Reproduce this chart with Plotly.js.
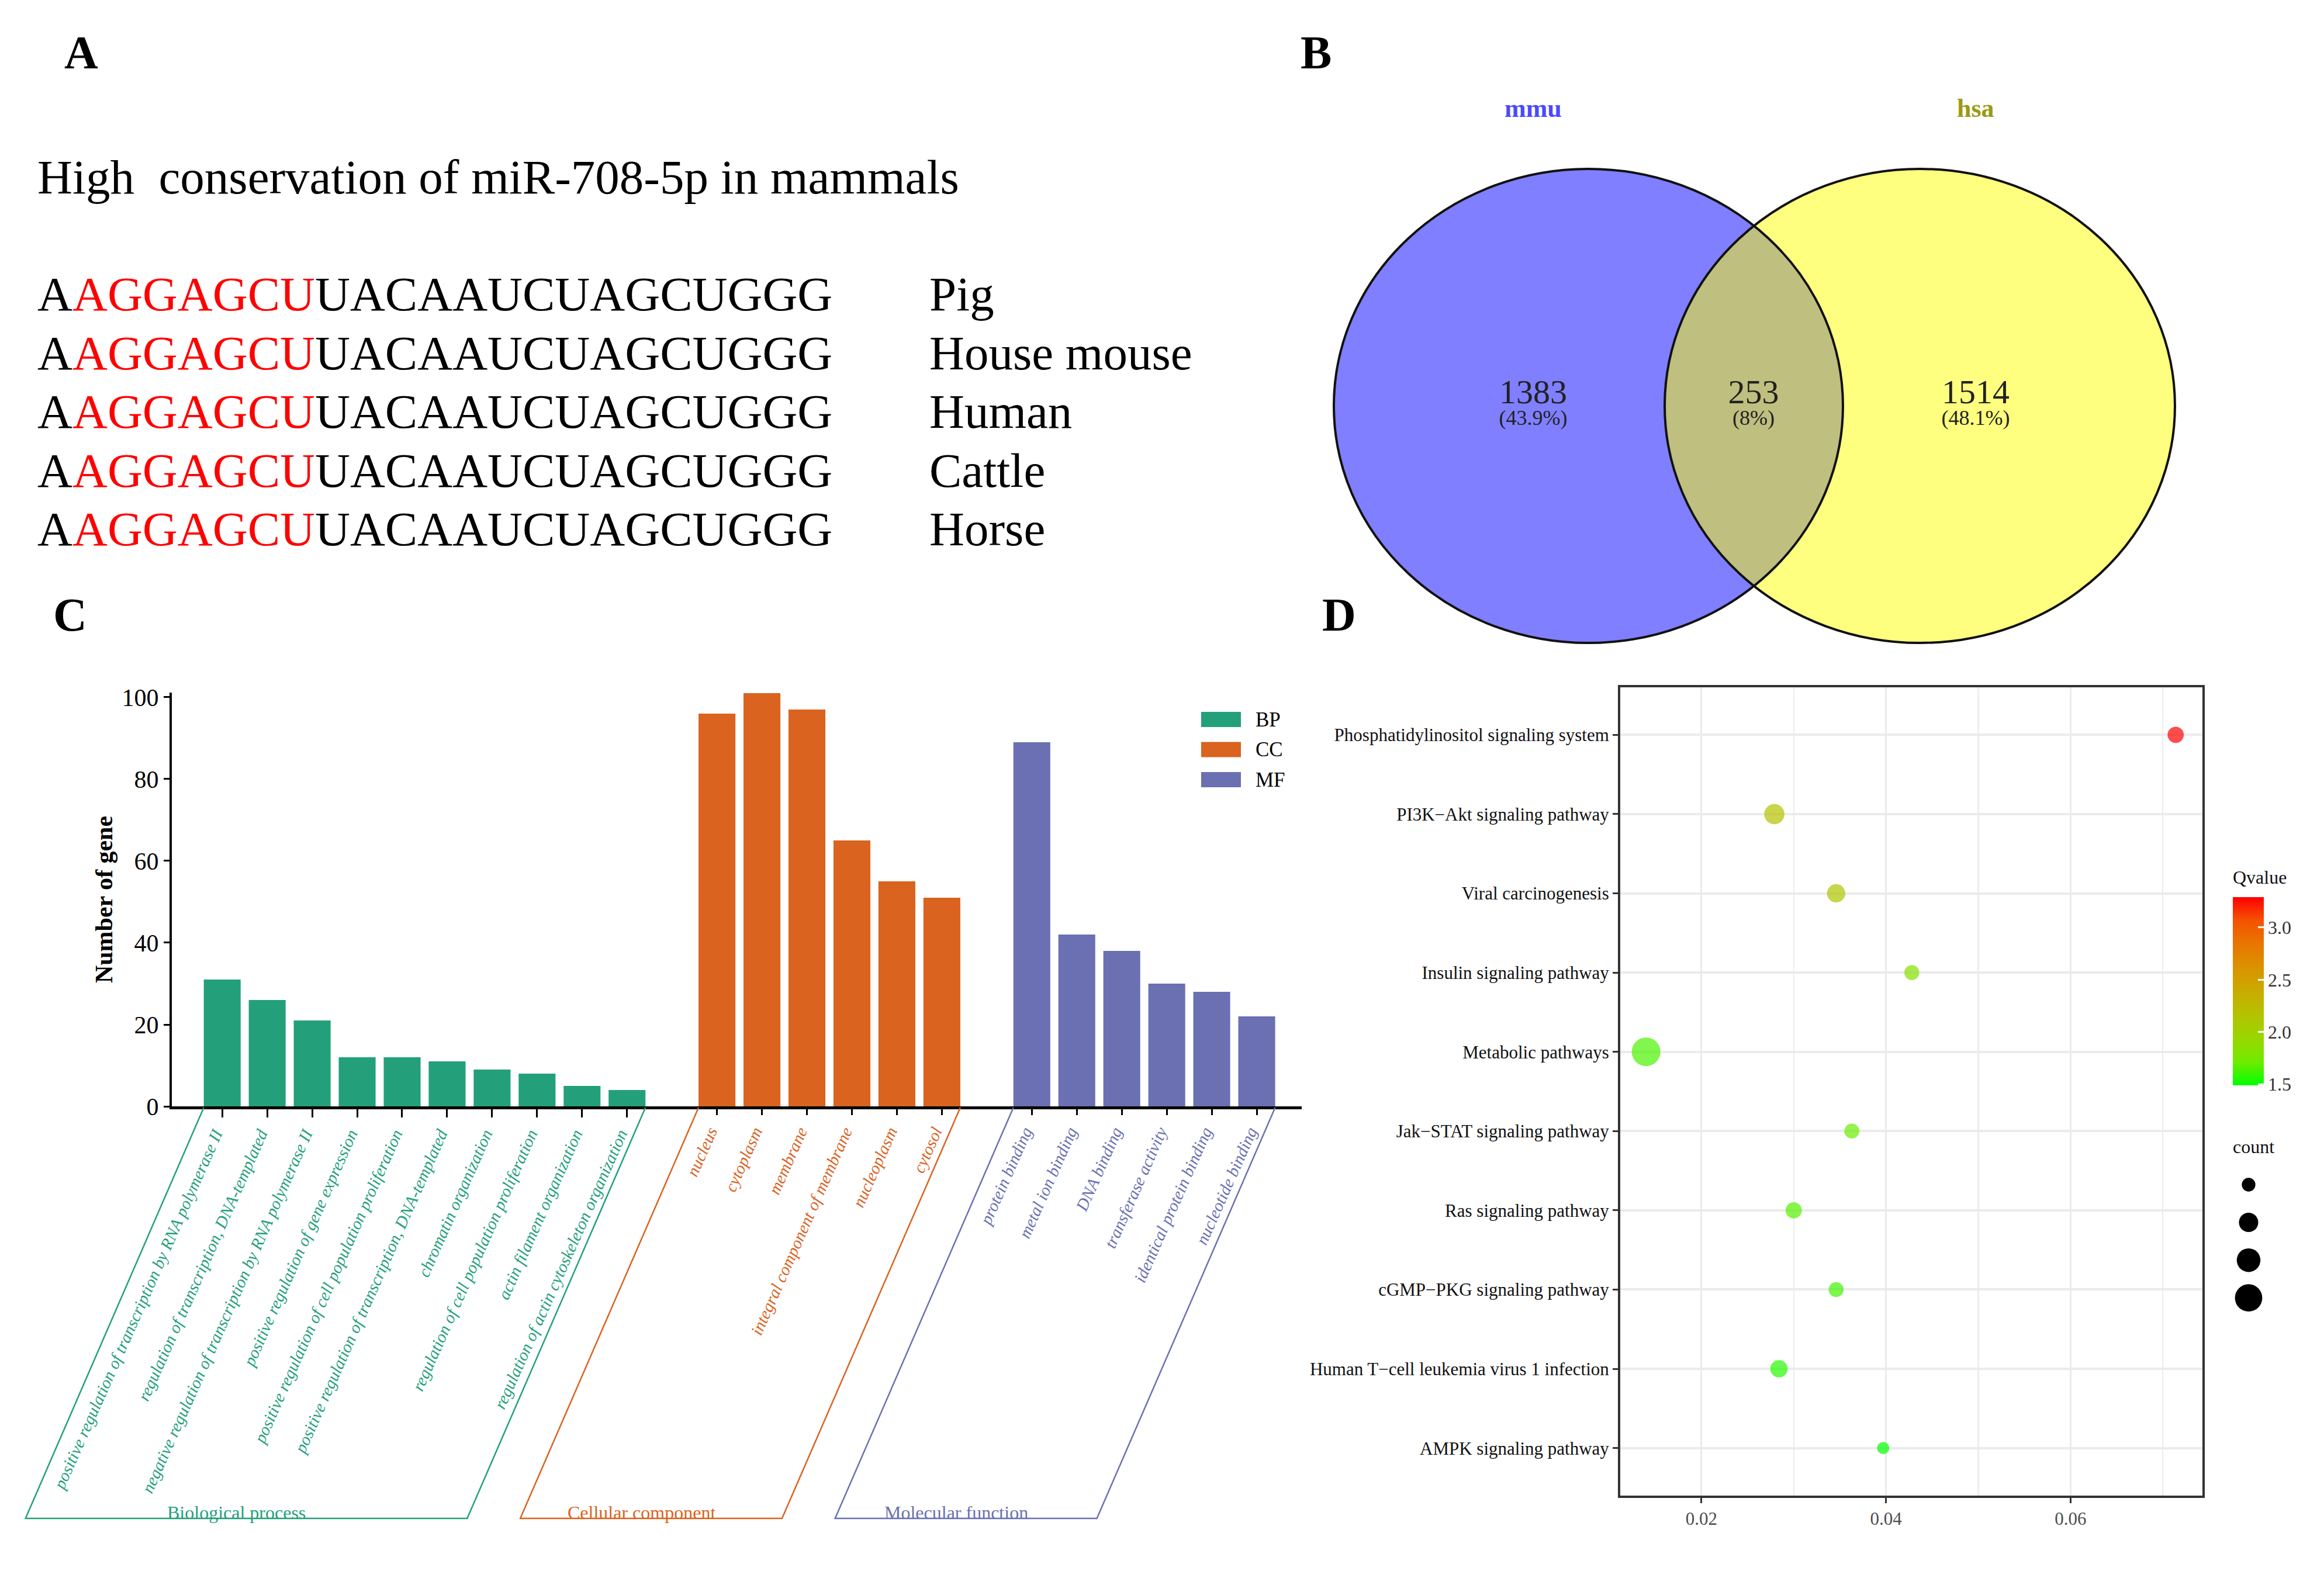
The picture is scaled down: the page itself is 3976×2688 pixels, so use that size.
<!DOCTYPE html>
<html><head><meta charset="utf-8">
<script src="https://cdn.plot.ly/plotly-3.0.1.min.js"></script>
<style>html,body{margin:0;padding:0;background:#fff;overflow:hidden}#chart{width:3976px;height:2688px}</style>
</head><body><div id="chart"></div>
<script>
// ---------------- DATA ----------------
// Panel A
const conservationTitle = 'High  conservation of miR-708-5p in mammals';
const sequences = ['AAGGAGCUUACAAUCUAGCUGGG','AAGGAGCUUACAAUCUAGCUGGG','AAGGAGCUUACAAUCUAGCUGGG','AAGGAGCUUACAAUCUAGCUGGG','AAGGAGCUUACAAUCUAGCUGGG'];
const species = ['Pig','House mouse','Human','Cattle','Horse'];
const seedStart = 1, seedEnd = 8;
// Panel B
const vennSets = ['mmu','hsa'];
const vennCounts = [1383, 253, 1514];
const vennPercents = ['(43.9%)','(8%)','(48.1%)'];
// Panel C
const goGroups = ['BP','CC','MF'];
const goGroupNames = ['Biological process','Cellular component','Molecular function'];
const bpTerms = ['positive regulation of transcription by RNA polymerase II','regulation of transcription, DNA-templated','negative regulation of transcription by RNA polymerase II','positive regulation of gene expression','positive regulation of cell population proliferation','positive regulation of transcription, DNA-templated','chromatin organization','regulation of cell population proliferation','actin filament organization','regulation of actin cytoskeleton organization'];
const bpCounts = [31, 26, 21, 12, 12, 11, 9, 8, 5, 4];
const ccTerms = ['nucleus','cytoplasm','membrane','integral component of membrane','nucleoplasm','cytosol'];
const ccCounts = [96, 101, 97, 65, 55, 51];
const mfTerms = ['protein binding','metal ion binding','DNA binding','transferase activity','identical protein binding','nucleotide binding'];
const mfCounts = [89, 42, 38, 30, 28, 22];
const yTicksC = [0, 20, 40, 60, 80, 100];
// Panel D
const pathways = ['Phosphatidylinositol signaling system','PI3K\u2212Akt signaling pathway','Viral carcinogenesis','Insulin signaling pathway','Metabolic pathways','Jak\u2212STAT signaling pathway','Ras signaling pathway','cGMP\u2212PKG signaling pathway','Human T\u2212cell leukemia virus 1 infection','AMPK signaling pathway'];
const richFactor = [0.0714, 0.0279, 0.0346, 0.0428, 0.0140, 0.0363, 0.0300, 0.0346, 0.0284, 0.0397];
const qvalue = [3.29, 2.16, 2.12, 1.84, 1.64, 1.70, 1.66, 1.62, 1.57, 1.49];
const geneCount = [7, 11, 9, 6, 22, 6, 7, 6, 8, 4];
const xTicksD = [0.02, 0.04, 0.06];
const qTicks = [1.5, 2.0, 2.5, 3.0];
const countBreaks = [5, 10, 15, 20];

// ---------------- LAYOUT HELPERS ----------------
const W = 3976, H = 2688;
const px = v => v / W, py = v => 1 - v / H;
const FONT = 'Liberation Serif';
const groupColors = ['#23A07A', '#D9631F', '#6A70B2'];
const groupTerms = [bpTerms, ccTerms, mfTerms];
const groupCounts = [bpCounts, ccCounts, mfCounts];
const groupAxes = ['x', 'x5', 'x6'];
// positions with one empty slot between groups
const groupPos = [];
let off = 0;
groupTerms.forEach((t, g) => { groupPos.push(t.map((_, i) => off + i)); off += t.length + 1; });
const lastPos = off - 2;
const cRange = [-1.12, lastPos + 1.0];
const cLeft = 294, cRight = 2227;
const cx2px = v => cLeft + (v - cRange[0]) * (cRight - cLeft) / (cRange[1] - cRange[0]);
const barW = 0.82;

const traces = [];
// Panel C bars
groupTerms.forEach((t, g) => {
  traces.push({type: 'bar', x: groupPos[g], y: groupCounts[g], xaxis: groupAxes[g], yaxis: 'y', width: barW,
    marker: {color: groupColors[g], line: {width: 0}}, name: goGroups[g], showlegend: false, hoverinfo: 'skip'});
});
// Panel D dots
const sizeref = 0.0183;
traces.push({type: 'scatter', mode: 'markers', x: richFactor, y: pathways, xaxis: 'x2', yaxis: 'y2', showlegend: false,
  marker: {size: geneCount, sizemode: 'area', sizeref: sizeref, line: {width: 0}, color: qvalue,
    colorscale: [[0,'#00FF00'],[0.125,'#70EB00'],[0.25,'#98D700'],[0.375,'#B4C200'],[0.5,'#C9AB00'],[0.625,'#DA9300'],[0.75,'#E87600'],[0.875,'#F45300'],[1,'#FF0000']],
    showscale: true,
    colorbar: {x: px(3820), xanchor: 'left', y: py(1696), yanchor: 'middle', len: 322, lenmode: 'pixels', thickness: 53, thicknessmode: 'pixels',
      xpad: 0, ypad: 0, outlinewidth: 0, tickmode: 'array', tickvals: qTicks, ticktext: qTicks.map(v => v.toFixed(1)),
      ticks: 'inside', ticklen: 10, tickwidth: 3, tickcolor: '#ffffff', tickfont: {family: FONT, size: 32, color: '#333'}}}});
// count size legend
traces.push({type: 'scatter', mode: 'markers', x: countBreaks.map(() => 0), y: countBreaks, xaxis: 'x3', yaxis: 'y3', showlegend: false,
  marker: {size: countBreaks, sizemode: 'area', sizeref: sizeref, color: '#000', opacity: 1, line: {width: 0}}});
traces.push({type: 'scatter', mode: 'text', x: countBreaks.map(() => 1), y: countBreaks, xaxis: 'x3', yaxis: 'y3', showlegend: false,
  text: countBreaks.map(String), textposition: 'middle right', textfont: {family: FONT, size: 32, color: '#333'}});
// Venn labels
const vennLabelX = [2623, 3000, 3380];
traces.push({type: 'scatter', mode: 'text', x: vennLabelX, y: vennCounts.map(() => 675), xaxis: 'x4', yaxis: 'y4', showlegend: false,
  text: vennCounts.map(String), textfont: {family: FONT, size: 58, color: '#222'}});
traces.push({type: 'scatter', mode: 'text', x: vennLabelX, y: vennCounts.map(() => 718), xaxis: 'x4', yaxis: 'y4', showlegend: false,
  text: vennPercents, textfont: {family: FONT, size: 36, color: '#222'}});

// ---------------- SHAPES ----------------
const shapes = [];
const ell = [{x0: 2282, x1: 3153, fill: 'rgba(0,0,255,0.5)'}, {x0: 2848, x1: 3721, fill: 'rgba(255,255,0,0.5)'}];
ell.forEach(e => shapes.push({type: 'circle', xref: 'x4', yref: 'y4', x0: e.x0, x1: e.x1, y0: 289, y1: 1100, fillcolor: e.fill, line: {width: 0}, layer: 'below'}));
ell.forEach(e => shapes.push({type: 'circle', xref: 'x4', yref: 'y4', x0: e.x0, x1: e.x1, y0: 289, y1: 1100, fillcolor: 'rgba(0,0,0,0)', line: {width: 4, color: '#111'}, layer: 'below'}));
// group parallelograms
const shiftPx = 305, topY = 1895, botY = 2598;
groupTerms.forEach((t, g) => {
  const l = cx2px(groupPos[g][0] - barW / 2), r = cx2px(groupPos[g][t.length - 1] + barW / 2);
  shapes.push({type: 'path', xref: 'paper', yref: 'paper',
    path: `M ${px(l)},${py(topY)} L ${px(l - shiftPx)},${py(botY)} L ${px(r - shiftPx)},${py(botY)} L ${px(r)},${py(topY)}`,
    line: {color: groupColors[g], width: 2.5}});
});
// legend keys for C
goGroups.forEach((gname, g) => {
  const yc = 1231 + g * 51.5;
  shapes.push({type: 'rect', xref: 'paper', yref: 'paper', x0: px(2055), x1: px(2123), y0: py(yc - 13), y1: py(yc + 13), fillcolor: groupColors[g], line: {width: 0}});
});

// ---------------- ANNOTATIONS ----------------
const ann = [];
const panelLabels = ['A', 'B', 'C', 'D'];
const panelLabelPos = [[139, 90], [2251, 90], [120, 1052], [2291, 1052]];
panelLabels.forEach((t, i) => ann.push({text: '<b>' + t + '</b>', x: px(panelLabelPos[i][0]), y: py(panelLabelPos[i][1]), xref: 'paper', yref: 'paper',
  showarrow: false, xanchor: 'center', yanchor: 'middle', font: {family: FONT, size: 80, color: '#000'}}));
ann.push({text: conservationTitle, x: px(62), y: py(303), xref: 'paper', yref: 'paper', showarrow: false, xanchor: 'left', yanchor: 'middle',
  font: {family: FONT, size: 83, color: '#000'}});
sequences.forEach((s, i) => {
  const yc = 503 + i * 100.6;
  const txt = s.slice(0, seedStart) + '<span style="color:#ff0000">' + s.slice(seedStart, seedEnd) + '</span>' + s.slice(seedEnd);
  ann.push({text: txt, x: px(62), y: py(yc), xref: 'paper', yref: 'paper', showarrow: false, xanchor: 'left', yanchor: 'middle',
    font: {family: FONT, size: 83, color: '#000'}});
  ann.push({text: species[i], x: px(1588), y: py(yc), xref: 'paper', yref: 'paper', showarrow: false, xanchor: 'left', yanchor: 'middle',
    font: {family: FONT, size: 83, color: '#000'}});
});
// Venn set names
const vennSetColors = ['#4a4aff', '#9a9a10'];
const vennSetX = [2623, 3380];
vennSets.forEach((s, i) => ann.push({text: s, x: px(vennSetX[i]), y: py(185), xref: 'paper', yref: 'paper', showarrow: false,
  xanchor: 'center', yanchor: 'middle', font: {family: FONT, size: 44, color: vennSetColors[i], weight: 600}}));
// C legend text
goGroups.forEach((gname, g) => ann.push({text: gname, x: px(2146), y: py(1231 + g * 51.5), xref: 'paper', yref: 'paper', showarrow: false,
  xanchor: 'left', yanchor: 'middle', font: {family: FONT, size: 35, color: '#000'}}));
// group names under parallelograms
goGroupNames.forEach((gname, g) => {
  const t = groupTerms[g];
  const l = cx2px(groupPos[g][0] - barW / 2), r = cx2px(groupPos[g][t.length - 1] + barW / 2);
  const mid = (l + r) / 2 - shiftPx - 17;
  ann.push({text: gname, x: px(mid), y: py(botY - 10), xref: 'paper', yref: 'paper', showarrow: false, xanchor: 'center', yanchor: 'middle',
    font: {family: FONT, size: 32, color: groupColors[g]}});
});
// colour & size legend titles
ann.push({text: 'Qvalue', x: px(3818), y: py(1501), xref: 'paper', yref: 'paper', showarrow: false, xanchor: 'left', yanchor: 'middle',
  font: {family: FONT, size: 32, color: '#111'}});
ann.push({text: 'count', x: px(3818), y: py(1962), xref: 'paper', yref: 'paper', showarrow: false, xanchor: 'left', yanchor: 'middle',
  font: {family: FONT, size: 32, color: '#111'}});

// ---------------- AXES ----------------
const cTickAxis = (g) => ({
  range: cRange, anchor: 'y', tickmode: 'array', tickvals: groupPos[g], ticktext: groupTerms[g], tickangle: -66,
  tickfont: {family: FONT, size: 29, color: groupColors[g], style: 'italic'}, ticklabelshift: -12,
  ticks: 'outside', ticklen: 14, tickwidth: 3, tickcolor: '#000', showgrid: false, zeroline: false, fixedrange: true
});
const layout = {
  width: W, height: H, margin: {l: 0, r: 0, t: 0, b: 0, pad: 0}, paper_bgcolor: '#fff', plot_bgcolor: 'rgba(0,0,0,0)',
  showlegend: false, hovermode: false, barmode: 'overlay', font: {family: FONT},
  xaxis: Object.assign(cTickAxis(0), {domain: [px(cLeft), px(cRight)], showline: true, linewidth: 5, linecolor: '#000'}),
  xaxis5: Object.assign(cTickAxis(1), {overlaying: 'x', side: 'bottom', showline: false}),
  xaxis6: Object.assign(cTickAxis(2), {overlaying: 'x', side: 'bottom', showline: false}),
  yaxis: {domain: [py(1893), py(1185)], range: [0, 101.14], anchor: 'x', tickmode: 'array', tickvals: yTicksC, ticks: 'outside', ticklen: 10,
    tickwidth: 3, tickcolor: '#000', showline: true, linewidth: 4, linecolor: '#000', showgrid: false, zeroline: false,
    tickfont: {family: FONT, size: 42, color: '#000'},
    title: {text: '<b>Number of gene</b>', font: {family: FONT, size: 42, color: '#000'}, standoff: 4}},
  xaxis2: {domain: [px(2772), px(3768)], range: [0.0112, 0.0743], anchor: 'y2', tickmode: 'array', tickvals: xTicksD, ticktext: xTicksD.map(v => v.toFixed(2)),
    ticks: 'outside', ticklen: 9, tickwidth: 3, tickcolor: '#333', showline: true, mirror: true, linewidth: 4, linecolor: '#333',
    showgrid: true, gridcolor: '#ebebeb', gridwidth: 3, zeroline: false,
    minor: {tickmode: 'linear', tick0: 0, dtick: 0.01, showgrid: true, gridcolor: '#ededed', gridwidth: 2.5, ticks: ''},
    tickfont: {family: FONT, size: 31, color: '#4d4d4d'}},
  yaxis2: {domain: [py(2559), py(1176)], anchor: 'x2', type: 'category', categoryorder: 'array', categoryarray: pathways.slice().reverse(),
    range: [-0.6, 9.6], ticks: 'outside', ticklen: 9, tickwidth: 3, tickcolor: '#333', showline: true, mirror: true, linewidth: 4, linecolor: '#333',
    showgrid: true, gridcolor: '#ebebeb', gridwidth: 4, zeroline: false, tickfont: {family: FONT, size: 31, color: '#111'}},
  xaxis3: {domain: [px(3812), px(3882)], range: [-1, 1], anchor: 'y3', visible: false},
  yaxis3: {domain: [py(2253), py(1994.7)], range: [22.5, 2.5], anchor: 'x3', visible: false},
  xaxis4: {domain: [px(2100), px(3900)], range: [2100, 3900], anchor: 'y4', visible: false},
  yaxis4: {domain: [py(1150), py(0)], range: [1150, 0], anchor: 'x4', visible: false},
  shapes: shapes, annotations: ann
};
Plotly.newPlot('chart', traces, layout, {staticPlot: true, displayModeBar: false});
</script></body></html>
